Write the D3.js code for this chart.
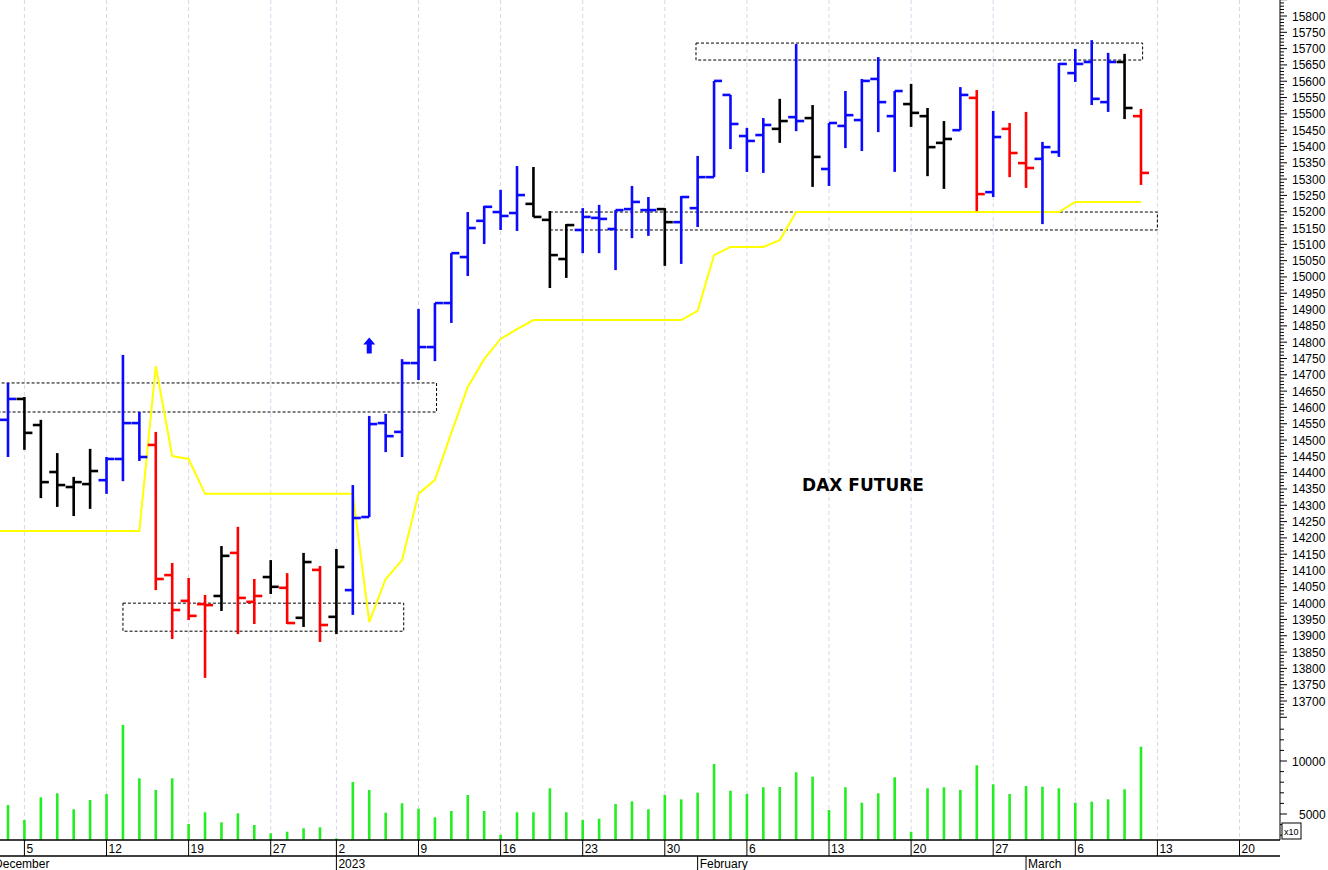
<!DOCTYPE html>
<html>
<head>
<meta charset="utf-8">
<script src="https://cdn.jsdelivr.net/npm/d3@7"></script>
<style>
  body { margin: 0; background: #fff; }
  svg { display: block; font-family: "Liberation Sans", Arial, sans-serif; }
</style>
</head>
<body>
<svg id="chart" width="1328" height="870"></svg>
<script>
// daily bars, 2 Dec 2022 .. 10 Mar 2023 (index = trading day)
const opens = [14562,14626,14546,14402,14356,14365,14377,14442,14552,14485,14086,14007,13997,14022,14154,14004,14080,14047,13955,14102,13958,14040,14264,14552,14525,14736,14785,14920,15061,15172,15199,15196,15224,15175,15055,15144,15181,15147,15208,15205,15208,15168,15211,15306,15558,15432,15435,15454,15490,15487,15331,15463,15481,15607,15493,15530,15493,15411,15450,15549,15260,15454,15349,15362,15383,15625,15659,15536,15659,15493];
const highs = [14675,14632,14562,14460,14387,14473,14448,14761,14586,14525,14123,14077,14025,14175,14234,14074,14132,14092,14154,14114,14166,14362,14574,14580,14748,14902,14920,15073,15199,15218,15267,15340,15337,15202,15162,15211,15221,15205,15279,15245,15211,15248,15371,15601,15558,15457,15487,15546,15714,15527,15472,15570,15607,15674,15570,15592,15518,15478,15582,15573,15509,15472,15506,15414,15656,15699,15726,15687,15684,15515];
const lows = [14448,14470,14322,14295,14267,14289,14335,14374,14436,14040,13890,13948,13771,13976,13905,13936,14028,13936,13927,13881,13905,13964,14264,14463,14448,14684,14742,14859,15003,15101,15144,15141,15184,14966,14997,15073,15073,15021,15119,15126,15034,15040,15153,15306,15392,15322,15319,15411,15447,15276,15279,15395,15386,15444,15322,15460,15309,15270,15450,15202,15245,15306,15273,15162,15368,15598,15527,15506,15484,15282];
const closes = [14626,14522,14371,14362,14371,14405,14442,14552,14448,14074,13979,13961,13994,14145,14016,14022,14050,13939,14126,13933,14111,14261,14549,14512,14736,14785,14920,15073,15150,15215,15187,15251,15184,15067,15159,15184,15178,15205,15230,15205,15168,15245,15306,15601,15469,15417,15466,15478,15478,15368,15472,15496,15601,15536,15570,15503,15398,15423,15558,15254,15429,15380,15334,15398,15653,15653,15546,15659,15518,15319];
// B = blue, K = black, R = red
const barColors = [
  "B","K","K","K","K","K","B","B","B","R",
  "R","R","R","K","R","R","K","R","K","R",
  "K","B","B","B","B","B","B","B","B","B",
  "B","B","K","K","K","B","B","B","B","B",
  "K","B","B","B","B","B","B","K","B","K",
  "B","B","B","B","B","K","K","K","B","R",
  "B","R","R","B","B","B","B","B","K","R"];
const volumes = [5849,4434,6575,6953,5443,6321,6887,13396,8368,7264,8368,4057,5160,4217,5066,3962,3179,3330,3651,3745,2708,8019,7264,5123,6009,5500,4689,5283,6792,5283,3047,5160,5160,7425,5160,4434,4557,5943,6198,5443,6792,6387,7009,9717,7198,6887,7519,7547,8934,8519,5377,7519,6066,6953,8462,3330,7425,7519,7264,9594,7802,6887,7642,7575,7425,6066,6160,6387,7330,11349];
// first value is 1 Dec (index -1)
const stopLine = [14221,14221,14221,14221,14221,14221,14221,14221,14221,14221,14727,14451,14442,14335,14335,14335,14335,14335,14335,14335,14335,14335,14335,13942,14074,14132,14335,14378,14522,14663,14748,14810,14840,14868,14868,14868,14868,14868,14868,14868,14868,14868,14868,14896,15067,15092,15092,15092,15113,15199,15199,15199,15199,15199,15199,15199,15199,15199,15199,15199,15199,15199,15199,15199,15199,15199,15230,15230,15230,15230,15230];

// week ticks (index of first trading day of each week) and labels
const weekIdx = [1,6,11,16,20,25,30,35,40,45,50,55,60,65,70,75];
const weekLabels = ["5","12","19","27","2","9","16","23","30","6","13","20","27","6","13","20"];
const monthIdx = [-0.97,20,42,62];
const monthLabels = ["December","2023","February","March"];

// support / resistance boxes: [fromIdx, toIdx, top, bottom]
const boxes = [[-1,26.1,14675,14586],[7,24.1,14000,13914],[41.9,69.1,15717,15665],[33,70,15199,15144]];
const priceTicks = d3.range(13700, 15801, 50);
const volTicks = [5000, 10000];

const colorMap = { B: "#0a0aff", K: "#000000", R: "#ff0000" };
const svg = d3.select("#chart");
const axisX = 1280, panelBottom = 840;

const x = d3.scaleLinear().domain([0, 1]).range([8, 24.42]);
const y = d3.scaleLinear().domain([13700, 15800]).range([701, 16]);
const yv = d3.scaleLinear().domain([5000, 10000]).range([814, 761]);

// vertical dashed grid
svg.append("g").selectAll("line").data(weekIdx).join("line")
  .attr("x1", d => x(d)).attr("x2", d => x(d))
  .attr("y1", 0).attr("y2", panelBottom)
  .attr("stroke", "#d6d6ee").attr("stroke-dasharray", "4,3");

// boxes
svg.append("g").selectAll("rect").data(boxes).join("rect")
  .attr("x", d => x(d[0])).attr("width", d => x(d[1]) - x(d[0]))
  .attr("y", d => y(d[2])).attr("height", d => y(d[3]) - y(d[2]))
  .attr("fill", "none").attr("stroke", "#000").attr("stroke-width", 1)
  .attr("stroke-dasharray", "3,2");

// yellow stop line
svg.append("path").datum(stopLine)
  .attr("d", d3.line().x((d, i) => x(i - 1)).y(d => y(d)))
  .attr("fill", "none").attr("stroke", "#ffff00").attr("stroke-width", 2);

// price bars
const bars = svg.append("g").attr("stroke-width", 2.6);
opens.forEach((o, i) => {
  const c = colorMap[barColors[i]];
  const g = bars.append("g").attr("stroke", c);
  g.append("line").attr("x1", x(i)).attr("x2", x(i)).attr("y1", y(highs[i])).attr("y2", y(lows[i]));
  g.append("line").attr("x1", x(i) - 8).attr("x2", x(i)).attr("y1", y(o)).attr("y2", y(o));
  g.append("line").attr("x1", x(i)).attr("x2", x(i) + 8).attr("y1", y(closes[i])).attr("y2", y(closes[i]));
});

// buy arrow
const ax = x(22), ay = y(14790);
svg.append("path")
  .attr("d", `M${ax},${ay - 8} L${ax + 6},${ay - 1} L${ax + 2.5},${ay - 1} L${ax + 2.5},${ay + 8} L${ax - 2.5},${ay + 8} L${ax - 2.5},${ay - 1} L${ax - 6},${ay - 1} Z`)
  .attr("fill", "#0a0aff");

// volume
svg.append("g").selectAll("line").data(volumes).join("line")
  .attr("x1", (d, i) => x(i)).attr("x2", (d, i) => x(i))
  .attr("y1", panelBottom).attr("y2", d => yv(d))
  .attr("stroke", "#22ee22").attr("stroke-width", 2.6);

// title
svg.append("text").attr("x", 863).attr("y", 491).attr("text-anchor", "middle")
  .attr("font-family", "DejaVu Sans, Verdana, sans-serif").attr("font-weight", "bold")
  .attr("font-size", 17).text("DAX FUTURE");

// right price axis
const yAxis = svg.append("g").attr("transform", `translate(${axisX},0)`);
yAxis.append("line").attr("y1", 0).attr("y2", panelBottom).attr("stroke", "#000");
yAxis.selectAll(".minor").data(d3.range(13650, 15851, 10)).join("line")
  .attr("x1", 0).attr("x2", d => d % 50 === 0 ? 7 : 4)
  .attr("y1", d => y(d)).attr("y2", d => y(d)).attr("stroke", "#000");
yAxis.selectAll("text.p").data(priceTicks).join("text")
  .attr("x", 12).attr("y", d => y(d) + 4.5).attr("font-size", 12).text(d => d);

// right volume axis
yAxis.selectAll(".vminor").data(d3.range(3000, 13001, 1000)).join("line")
  .attr("x1", 0).attr("x2", d => d % 5000 === 0 ? 7 : 4)
  .attr("y1", d => yv(d)).attr("y2", d => yv(d)).attr("stroke", "#000");
yAxis.selectAll("text.v").data(volTicks).join("text")
  .attr("x", d => d >= 10000 ? 12 : 19).attr("y", d => yv(d) + 4.5).attr("font-size", 12).text(d => d);
yAxis.append("rect").attr("x", 2).attr("y", 823).attr("width", 19).attr("height", 16)
  .attr("fill", "#fff").attr("stroke", "#000");
yAxis.append("text").attr("x", 4).attr("y", 835).attr("font-size", 9).text("x10");

// bottom date axis
const xAxis = svg.append("g");
xAxis.append("line").attr("x1", 0).attr("x2", axisX).attr("y1", panelBottom).attr("y2", panelBottom).attr("stroke", "#000").attr("stroke-width", 1.5);
xAxis.append("line").attr("x1", 0).attr("x2", axisX).attr("y1", 856).attr("y2", 856).attr("stroke", "#000").attr("stroke-width", 1.5);
xAxis.selectAll(".wt").data(weekIdx).join("line")
  .attr("x1", d => x(d)).attr("x2", d => x(d)).attr("y1", panelBottom).attr("y2", 856).attr("stroke", "#000");
xAxis.selectAll(".wl").data(weekIdx).join("text")
  .attr("x", d => x(d) + 2).attr("y", 853).attr("font-size", 12).text((d, i) => weekLabels[i]);
xAxis.selectAll(".mt").data(monthIdx).join("line")
  .attr("x1", d => x(d)).attr("x2", d => x(d)).attr("y1", 856).attr("y2", 870).attr("stroke", "#000");
xAxis.selectAll(".ml").data(monthIdx).join("text")
  .attr("x", d => x(d) + 2).attr("y", 868).attr("font-size", 12).text((d, i) => monthLabels[i]);
</script>
</body>
</html>
